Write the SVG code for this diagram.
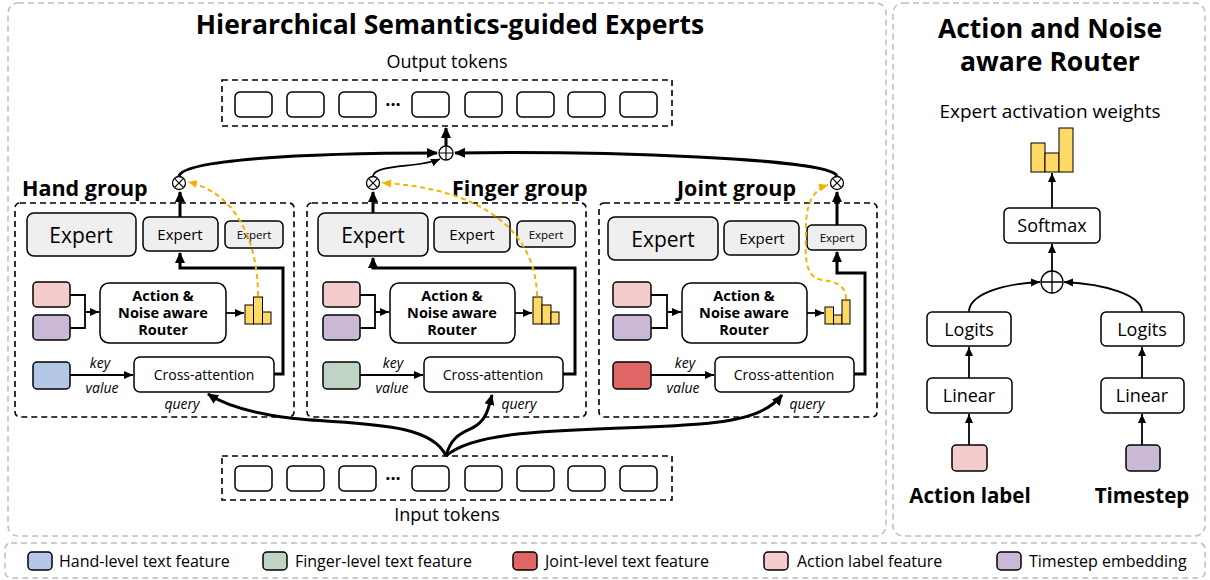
<svg xmlns="http://www.w3.org/2000/svg" width="1210" height="580" viewBox="0 0 1210 580">
<defs>
<style>
text{font-family:"Open Sans","Noto Sans","DejaVu Sans",sans-serif;fill:#000}
.panel{fill:none;stroke:#bdbdbd;stroke-width:1.5;stroke-dasharray:6 4}
.grp{fill:none;stroke:#000;stroke-width:1.6;stroke-dasharray:6 4}
.box{fill:#fff;stroke:#000;stroke-width:1.5}
.exp{fill:#efefef;stroke:#000;stroke-width:1.5}
.tok{fill:#fff;stroke:#000;stroke-width:1.5}
.thick{fill:none;stroke:#000;stroke-width:3}
.thin{fill:none;stroke:#000;stroke-width:1.8}
.ydash{fill:none;stroke:#F5B301;stroke-width:2;stroke-dasharray:5 3.5}
.bar{fill:#FFD966;stroke:#000;stroke-width:1}
.pink{fill:#F4CCCC;stroke:#000;stroke-width:1.5}
.purple{fill:#C9B8D6;stroke:#000;stroke-width:1.5}
.blue{fill:#B4C7E7;stroke:#000;stroke-width:1.5}
.green{fill:#BFD4C4;stroke:#000;stroke-width:1.5}
.red{fill:#E06666;stroke:#000;stroke-width:1.5}
.op{fill:#fff;stroke:#000;stroke-width:1.3}
.title{font-weight:bold;font-size:26.5px}
.glabel{font-weight:bold;font-size:21.5px}
.rt{font-weight:bold;font-size:14.5px}
.it{font-style:italic;font-size:14px}
.lg{font-size:16px}
.dots{font-weight:bold;font-size:18px}
.rp{font-size:18px}
</style>
<marker id="ah" markerUnits="userSpaceOnUse" markerWidth="12" markerHeight="12" viewBox="0 0 12 12" refX="10" refY="6" orient="auto"><path d="M0,1 L11,6 L0,11 Z" fill="#000"/></marker>
<marker id="ahs" markerUnits="userSpaceOnUse" markerWidth="10" markerHeight="10" viewBox="0 0 10 10" refX="9" refY="5" orient="auto"><path d="M0,1 L9,5 L0,9 Z" fill="#000"/></marker>
<marker id="ahy" markerUnits="userSpaceOnUse" markerWidth="10" markerHeight="10" viewBox="0 0 10 10" refX="9" refY="5" orient="auto"><path d="M0,1 L9,5 L0,9 Z" fill="#F5B301"/></marker>
</defs>

<!-- panels -->
<g id="panels">
<rect class="panel" x="8" y="3" width="878" height="533" rx="10"/>
<rect class="panel" x="893" y="3" width="312" height="533" rx="10"/>
<rect class="panel" x="5" y="543" width="1200" height="35" rx="6"/>
<text class="title" x="450" y="34" text-anchor="middle">Hierarchical Semantics-guided Experts</text>
<text class="title" x="1050" y="38" text-anchor="middle">Action and Noise</text>
<text class="title" x="1050" y="71" text-anchor="middle">aware Router</text>
</g>

<!-- output tokens -->
<g id="output-tokens">
<text x="447" y="68" text-anchor="middle" font-size="18">Output tokens</text>
<rect class="grp" x="222" y="80" width="450" height="46"/>
<rect class="tok" x="235" y="92" width="37" height="25" rx="5"/>
<rect class="tok" x="287" y="92" width="37" height="25" rx="5"/>
<rect class="tok" x="339" y="92" width="37" height="25" rx="5"/>
<text class="dots" x="393" y="111" text-anchor="middle">···</text>
<rect class="tok" x="412" y="92" width="37" height="25" rx="5"/>
<rect class="tok" x="465" y="92" width="37" height="25" rx="5"/>
<rect class="tok" x="517" y="92" width="37" height="25" rx="5"/>
<rect class="tok" x="568" y="92" width="37" height="25" rx="5"/>
<rect class="tok" x="620" y="92" width="37" height="25" rx="5"/>
</g>

<!-- input tokens -->
<g id="input-tokens">
<rect class="grp" x="222" y="456" width="450" height="44"/>
<rect class="tok" x="235" y="466" width="37" height="25" rx="5"/>
<rect class="tok" x="287" y="466" width="37" height="25" rx="5"/>
<rect class="tok" x="339" y="466" width="37" height="25" rx="5"/>
<text class="dots" x="393" y="485" text-anchor="middle">···</text>
<rect class="tok" x="412" y="466" width="37" height="25" rx="5"/>
<rect class="tok" x="465" y="466" width="37" height="25" rx="5"/>
<rect class="tok" x="517" y="466" width="37" height="25" rx="5"/>
<rect class="tok" x="568" y="466" width="37" height="25" rx="5"/>
<rect class="tok" x="620" y="466" width="37" height="25" rx="5"/>
<text x="447" y="521" text-anchor="middle" font-size="18">Input tokens</text>
</g>

<!-- Hand group -->
<g id="hand-group">
<text class="glabel" x="22" y="196">Hand group</text>
<rect class="grp" x="15" y="203" width="279" height="214" rx="5"/>
<rect class="exp" x="27" y="213" width="109" height="43" rx="7"/>
<text x="81" y="243" text-anchor="middle" font-size="21">Expert</text>
<rect class="exp" x="143" y="217" width="75" height="34" rx="6"/>
<text x="180" y="240" text-anchor="middle" font-size="15">Expert</text>
<rect class="exp" x="225" y="221" width="58" height="27" rx="5"/>
<text x="254" y="239" text-anchor="middle" font-size="11.5">Expert</text>
<rect class="pink" x="33" y="282" width="37" height="25" rx="4"/>
<rect class="purple" x="33" y="315" width="37" height="25" rx="4"/>
<rect class="blue" x="33" y="362" width="37" height="27" rx="4"/>
<rect class="box" x="100" y="283" width="126" height="60" rx="9"/>
<text class="rt" x="163" y="301" text-anchor="middle">Action &amp;</text>
<text class="rt" x="163" y="318" text-anchor="middle">Noise aware</text>
<text class="rt" x="163" y="335" text-anchor="middle">Router</text>
<rect class="bar" x="245" y="305" width="8.5" height="19"/>
<rect class="bar" x="253.5" y="297" width="9" height="27"/>
<rect class="bar" x="262.5" y="312" width="8.5" height="12"/>
<rect class="box" x="134" y="357" width="140" height="35" rx="6"/>
<text x="204" y="380" text-anchor="middle" font-size="14">Cross-attention</text>
<text class="it" x="100" y="368" text-anchor="middle">key</text>
<text class="it" x="102" y="393" text-anchor="middle">value</text>
<text class="it" x="182" y="409" text-anchor="middle">query</text>
<circle class="op" cx="179" cy="183" r="6.5"/>
<path d="M174.4,178.4 L183.6,187.6 M183.6,178.4 L174.4,187.6" stroke="#000" stroke-width="1.2"/>
</g>

<!-- Finger group -->
<g id="finger-group">
<text class="glabel" x="452" y="196">Finger group</text>
<rect class="grp" x="307" y="203" width="279" height="214" rx="5"/>
<rect class="exp" x="318" y="213" width="110" height="43" rx="7"/>
<text x="373" y="243" text-anchor="middle" font-size="21">Expert</text>
<rect class="exp" x="434" y="217" width="76" height="35" rx="6"/>
<text x="472" y="240" text-anchor="middle" font-size="15">Expert</text>
<rect class="exp" x="517" y="221" width="58" height="26" rx="5"/>
<text x="546" y="239" text-anchor="middle" font-size="11.5">Expert</text>
<rect class="pink" x="323" y="282" width="37" height="25" rx="4"/>
<rect class="purple" x="323" y="315" width="37" height="25" rx="4"/>
<rect class="green" x="323" y="362" width="37" height="27" rx="4"/>
<rect class="box" x="390" y="283" width="125" height="60" rx="9"/>
<text class="rt" x="452" y="301" text-anchor="middle">Action &amp;</text>
<text class="rt" x="452" y="318" text-anchor="middle">Noise aware</text>
<text class="rt" x="452" y="335" text-anchor="middle">Router</text>
<rect class="bar" x="533" y="297" width="9" height="27"/>
<rect class="bar" x="542" y="305" width="9" height="19"/>
<rect class="bar" x="551" y="312" width="8" height="12"/>
<rect class="box" x="424" y="357" width="139" height="35" rx="6"/>
<text x="493" y="380" text-anchor="middle" font-size="14">Cross-attention</text>
<text class="it" x="393" y="368" text-anchor="middle">key</text>
<text class="it" x="392" y="393" text-anchor="middle">value</text>
<text class="it" x="519" y="409" text-anchor="middle">query</text>
<circle class="op" cx="373" cy="183" r="6.5"/>
<path d="M368.4,178.4 L377.6,187.6 M377.6,178.4 L368.4,187.6" stroke="#000" stroke-width="1.2"/>
</g>

<!-- Joint group -->
<g id="joint-group">
<text class="glabel" x="677" y="196">Joint group</text>
<rect class="grp" x="599" y="203" width="278" height="214" rx="5"/>
<rect class="exp" x="608" y="217" width="110" height="43" rx="7"/>
<text x="663" y="247" text-anchor="middle" font-size="21">Expert</text>
<rect class="exp" x="724" y="221" width="75" height="34" rx="6"/>
<text x="762" y="244" text-anchor="middle" font-size="15">Expert</text>
<rect class="exp" x="807" y="225" width="59" height="25" rx="5"/>
<text x="837" y="242" text-anchor="middle" font-size="11.5">Expert</text>
<rect class="pink" x="613" y="282" width="38" height="25" rx="4"/>
<rect class="purple" x="613" y="315" width="38" height="25" rx="4"/>
<rect class="red" x="613" y="362" width="38" height="27" rx="4"/>
<rect class="box" x="682" y="283" width="125" height="60" rx="9"/>
<text class="rt" x="744" y="301" text-anchor="middle">Action &amp;</text>
<text class="rt" x="744" y="318" text-anchor="middle">Noise aware</text>
<text class="rt" x="744" y="335" text-anchor="middle">Router</text>
<rect class="bar" x="825" y="307" width="8.5" height="17"/>
<rect class="bar" x="833.5" y="315" width="8.5" height="9"/>
<rect class="bar" x="842" y="300" width="8" height="24"/>
<rect class="box" x="715" y="357" width="139" height="35" rx="6"/>
<text x="784" y="380" text-anchor="middle" font-size="14">Cross-attention</text>
<text class="it" x="685" y="368" text-anchor="middle">key</text>
<text class="it" x="683" y="393" text-anchor="middle">value</text>
<text class="it" x="807" y="409" text-anchor="middle">query</text>
<circle class="op" cx="837" cy="183" r="6.5"/>
<path d="M832.4,178.4 L841.6,187.6 M841.6,178.4 L832.4,187.6" stroke="#000" stroke-width="1.2"/>
</g>

<!-- sum node -->
<g id="sum-main">
<circle class="op" cx="446" cy="153" r="7"/>
<path d="M439,153 H453 M446,146 V160" stroke="#000" stroke-width="1.2"/>
</g>

<!-- Router detail panel -->
<g id="router-detail">
<text x="1050" y="118" text-anchor="middle" font-size="19">Expert activation weights</text>
<rect class="bar" x="1031" y="143" width="14" height="29"/>
<rect class="bar" x="1045" y="153" width="14" height="19"/>
<rect class="bar" x="1059" y="128" width="14" height="44"/>
<rect class="box" x="1004" y="208" width="96" height="35" rx="5"/>
<text class="rp" x="1052" y="232" text-anchor="middle" font-size="18.5">Softmax</text>
<circle class="op" cx="1052" cy="282" r="11"/>
<path d="M1041,282 H1063 M1052,271 V293" stroke="#000" stroke-width="1.3"/>
<rect class="box" x="927" y="312" width="84" height="34" rx="5"/>
<text class="rp" x="969" y="336" text-anchor="middle">Logits</text>
<rect class="box" x="927" y="378" width="85" height="35" rx="5"/>
<text class="rp" x="969" y="402" text-anchor="middle">Linear</text>
<rect class="pink" x="952" y="445" width="35" height="26" rx="4"/>
<text x="970" y="503" text-anchor="middle" font-weight="bold" font-size="20.5">Action label</text>
<rect class="box" x="1101" y="312" width="83" height="34" rx="5"/>
<text class="rp" x="1142" y="336" text-anchor="middle">Logits</text>
<rect class="box" x="1101" y="378" width="83" height="35" rx="5"/>
<text class="rp" x="1142" y="402" text-anchor="middle">Linear</text>
<rect class="purple" x="1126" y="445" width="34" height="26" rx="4"/>
<text x="1142" y="503" text-anchor="middle" font-weight="bold" font-size="20.5">Timestep</text>
</g>

<!-- connectors -->
<g id="connectors">
<path class="thick" d="M446,146 V128" marker-end="url(#ah)"/>
<path class="thick" d="M179,176 C183,160 300,153 437,153" marker-end="url(#ah)"/>
<path class="thin" d="M373,176 C375,164 420,168 440,159" marker-end="url(#ahs)"/>
<path class="thick" d="M837,176 C830,158 600,151 455,153" marker-end="url(#ah)"/>
<path class="thick" d="M180,217 V192" marker-end="url(#ah)"/>
<path class="thick" d="M274,374 H283 V268 H180 V253" marker-end="url(#ah)"/>
<path class="thin" d="M70,295 H85 V328 H70 M85,312 H99" marker-end="url(#ahs)"/>
<path class="thin" d="M226,313 H244" marker-end="url(#ahs)"/>
<path class="thin" d="M70,375 H133" marker-end="url(#ahs)"/>
<path class="ydash" d="M258,296 C258,240 235,192 188,182" marker-end="url(#ahy)"/>
<path class="thick" d="M373,213 V192" marker-end="url(#ah)"/>
<path class="thick" d="M563,374 H575 V268 H373 V258" marker-end="url(#ah)"/>
<path class="thin" d="M360,295 H375 V328 H360 M375,312 H389" marker-end="url(#ahs)"/>
<path class="thin" d="M515,313 H532" marker-end="url(#ahs)"/>
<path class="thin" d="M360,375 H423" marker-end="url(#ahs)"/>
<path class="ydash" d="M537,296 C536,230 480,188 382,183" marker-end="url(#ahy)"/>
<path class="thick" d="M837,225 V192" marker-end="url(#ah)"/>
<path class="thick" d="M854,374 H865 V273 H837 V252" marker-end="url(#ah)"/>
<path class="thin" d="M651,295 H667 V328 H651 M667,312 H681" marker-end="url(#ahs)"/>
<path class="thin" d="M807,313 H824" marker-end="url(#ahs)"/>
<path class="thin" d="M651,375 H714" marker-end="url(#ahs)"/>
<path class="ydash" d="M846,299 C846,285 836,282 822,280 C802,277 806,250 806,228 C806,205 812,190 828,185" marker-end="url(#ahy)"/>
<path class="thick" d="M446,456 C430,420 350,425 290,418 C250,413 225,405 208,394" marker-end="url(#ah)"/>
<path class="thick" d="M446,456 C452,432 468,432 477,425 C487,418 489,406 492,395" marker-end="url(#ah)"/>
<path class="thick" d="M446,456 C480,425 600,432 700,424 C750,420 770,410 782,395" marker-end="url(#ah)"/>
<path class="thin" d="M1052,208 V173" marker-end="url(#ahs)"/>
<path class="thin" d="M1052,271 V244" marker-end="url(#ahs)"/>
<path class="thin" d="M969,312 C969,295 1000,284 1040,282" marker-end="url(#ahs)"/>
<path class="thin" d="M1142,312 C1142,295 1105,284 1064,282" marker-end="url(#ahs)"/>
<path class="thin" d="M969,378 V347" marker-end="url(#ahs)"/>
<path class="thin" d="M969,445 V414" marker-end="url(#ahs)"/>
<path class="thin" d="M1142,378 V347" marker-end="url(#ahs)"/>
<path class="thin" d="M1142,445 V414" marker-end="url(#ahs)"/>
</g>

<!-- legend -->
<g id="legend">
<rect class="blue" x="28" y="552" width="24" height="18" rx="4"/>
<text class="lg" x="59" y="567">Hand-level text feature</text>
<rect class="green" x="263" y="552" width="24" height="18" rx="4"/>
<text class="lg" x="295" y="567">Finger-level text feature</text>
<rect class="red" x="513" y="552" width="24" height="18" rx="4"/>
<text class="lg" x="545" y="567">Joint-level text feature</text>
<rect class="pink" x="764" y="552" width="24" height="18" rx="4"/>
<text class="lg" x="797" y="567">Action label feature</text>
<rect class="purple" x="997" y="552" width="24" height="18" rx="4"/>
<text class="lg" x="1029" y="567">Timestep embedding</text>
</g>
</svg>
